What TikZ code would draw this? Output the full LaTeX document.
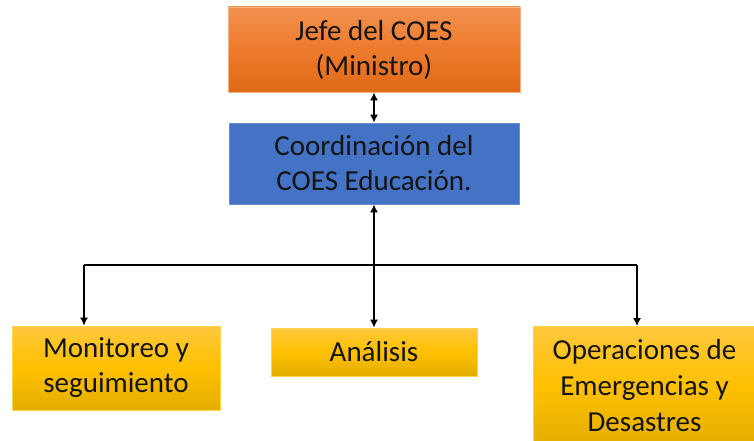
\documentclass[tikz,border=0pt]{standalone}
\usepackage{fontspec}
\setmainfont{Carlito}
\usetikzlibrary{arrows.meta}
\definecolor{orT}{HTML}{F2914F}
\definecolor{orM}{HTML}{EE7A2C}
\definecolor{orB}{HTML}{DE6A18}
\definecolor{orE}{HTML}{F4B183}
\definecolor{blF}{HTML}{4472C4}
\definecolor{blE}{HTML}{6D8FD0}
\definecolor{yeT}{HTML}{FFC83D}
\definecolor{yeM}{HTML}{FFC000}
\definecolor{yeB}{HTML}{E3AE00}
\definecolor{yeE}{HTML}{FFD34D}
\definecolor{txt}{HTML}{141414}
\tikzset{
  box/.style={rectangle, inner sep=0pt, align=center, font=\fontsize{29}{35}\selectfont, text=txt, line width=0.8pt},
  orbox/.style={box, draw=orE, top color=orT, bottom color=orB, middle color=orM},
  blbox/.style={box, draw=blE, fill=blF},
  yebox/.style={box, draw=yeE, top color=yeT, bottom color=yeB, middle color=yeM},
  conn/.style={line width=1.4pt, black},
  tip/.style={-{Latex[length=8pt,width=8pt]}},
  tips/.style={{Latex[length=8pt,width=8pt]}-{Latex[length=8pt,width=8pt]}}
}
\begin{document}
\begin{tikzpicture}[x=1pt,y=-1pt]
\useasboundingbox (0,0) rectangle (754,441);
\clip (0,0) rectangle (754,441);
\node[orbox, minimum width=292pt, minimum height=85pt] (jefe) at (374,49.5) {Jefe del COES\\(Ministro)};
\node[blbox, minimum width=290pt, minimum height=81pt] (coord) at (374,163.5) {Coordinación del\\COES Educación.};
\node[yebox, minimum width=208pt, minimum height=84pt] (mon) at (116,368) {Monitoreo y\\seguimiento};
\node[yebox, minimum width=206pt, minimum height=48pt] (anal) at (374,352) {Análisis};
\node[yebox, minimum width=222pt, minimum height=119pt, font=\fontsize{29}{36}\selectfont] (ops) at (644.5,386) {Operaciones de\\Emergencias y\\Desastres};
\coordinate (ml) at (84,265);
\coordinate (mr) at (637,265);
\draw[conn, tips] (jefe) -- (coord);
\draw[conn, tips] (coord) -- (anal);
\draw[conn] (ml) -- (mr);
\draw[conn, tip] (ml) -- (ml |- mon.north);
\draw[conn, tip] (mr) -- (mr |- ops.north);
\end{tikzpicture}
\end{document}
